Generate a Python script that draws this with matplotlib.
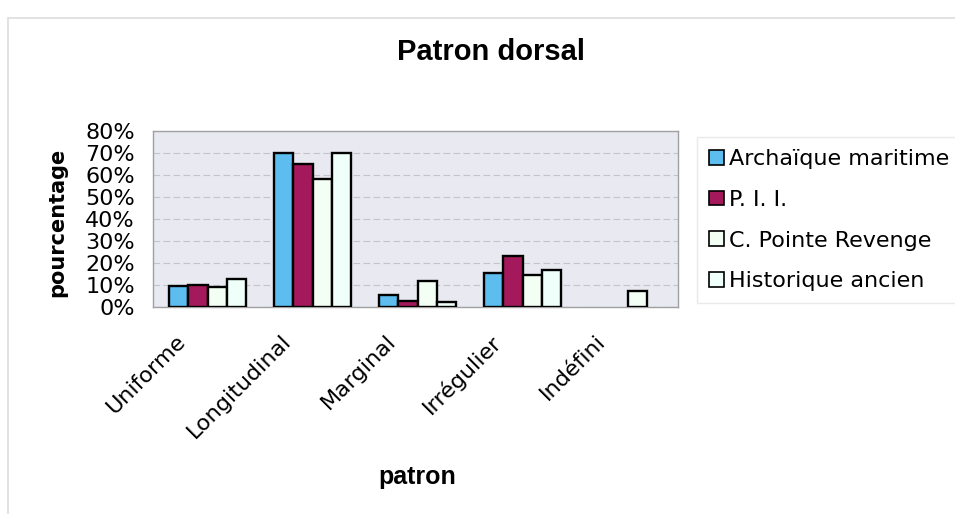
import numpy as np
import matplotlib
matplotlib.use('Agg')
import matplotlib.pyplot as plt
import matplotlib.transforms as mtrans
from matplotlib.patches import Rectangle
from matplotlib.ticker import FuncFormatter

plt.rcParams['font.family'] = ['DejaVu Sans']

categories = ['Uniforme', 'Longitudinal', 'Marginal', 'Irrégulier', 'Indéfini']
series_names = ['Archaïque maritime', 'P. I. I.', 'C. Pointe Revenge', 'Historique ancien']
archaique = [9.7, 70.0, 5.6, 15.3, 0.0]
pii = [10.2, 65.0, 2.7, 23.0, 0.0]
pointe_revenge = [9.0, 58.4, 12.0, 14.7, 7.5]
historique = [12.7, 70.0, 2.1, 16.6, 0.0]
yticks = [0, 10, 20, 30, 40, 50, 60, 70, 80]

values = [archaique, pii, pointe_revenge, historique]
colors = ['#5CBDEE', '#A3195B', '#F3FFF5', '#EFFFFA']

fig = plt.figure(figsize=(9.55, 5.14), dpi=100)
fig.patch.set_facecolor('white')
# outer chart border
fig.add_artist(Rectangle((8 / 955, -0.05), 1.2, 1.015, transform=fig.transFigure,
                         fill=False, edgecolor='#DDDDDD', lw=1.2))

ax = fig.add_axes([153 / 955, 1 - 307 / 514, 525 / 955, 176 / 514])
ax.set_facecolor('#E9EAF1')

x = np.arange(len(categories))
w = 0.185
for i, (vals, c) in enumerate(zip(values, colors)):
    xs = x + (i - 1.5) * w
    mask = np.array(vals) > 0
    ax.bar(xs[mask], np.array(vals)[mask], w, color=c, edgecolor='black', lw=1.7,
           label=series_names[i], zorder=3)

ax.set_xlim(-0.52, 4.48)
ax.set_ylim(0, 80)
ax.set_yticks(yticks)
ax.yaxis.set_major_formatter(FuncFormatter(lambda v, p: f'{int(v)}%'))
ax.grid(axis='y', color='#C4C4CC', lw=0.8, ls=(0, (6, 3)), zorder=0)
for s in ax.spines.values():
    s.set_color('#A0A0A0')
    s.set_linewidth(1)
ax.tick_params(axis='y', length=0, labelsize=16, pad=13)
ax.tick_params(axis='x', length=0, labelsize=16, pad=8)
ax.set_xticks(x)
ax.set_xticklabels(categories, rotation=45, ha='right', rotation_mode='anchor')
offset = mtrans.ScaledTranslation(-0.32, -0.13, fig.dpi_scale_trans)
for lbl in ax.get_xticklabels():
    lbl.set_transform(lbl.get_transform() + offset)

fig.text(57 / 955, 1 - 222 / 514, 'pourcentage', fontsize=15, fontweight='bold',
         rotation=90, ha='center', va='center')
fig.text(417 / 955, 1 - 477 / 514, 'patron', fontsize=18, fontweight='bold',
         family='Liberation Sans', ha='center', va='center')
fig.text(491 / 955, 1 - 52 / 514, 'Patron dorsal', fontsize=21, fontweight='bold',
         family='Liberation Sans', ha='center', va='center')

handles, labels = ax.get_legend_handles_labels()
leg = fig.legend(handles, labels, loc='upper left', bbox_to_anchor=(697 / 955, 1 - 137 / 514),
                 fontsize=16, frameon=True, fancybox=False, handlelength=0.65,
                 handleheight=0.65, handletextpad=0.25, labelspacing=0.93,
                 borderpad=0.55, borderaxespad=0)
leg.get_frame().set_edgecolor('#E4E4E4')
leg.get_frame().set_linewidth(1)
for h in leg.legend_handles:
    h.set_linewidth(1.2)

fig.savefig('out.png', dpi=100, facecolor='white')
